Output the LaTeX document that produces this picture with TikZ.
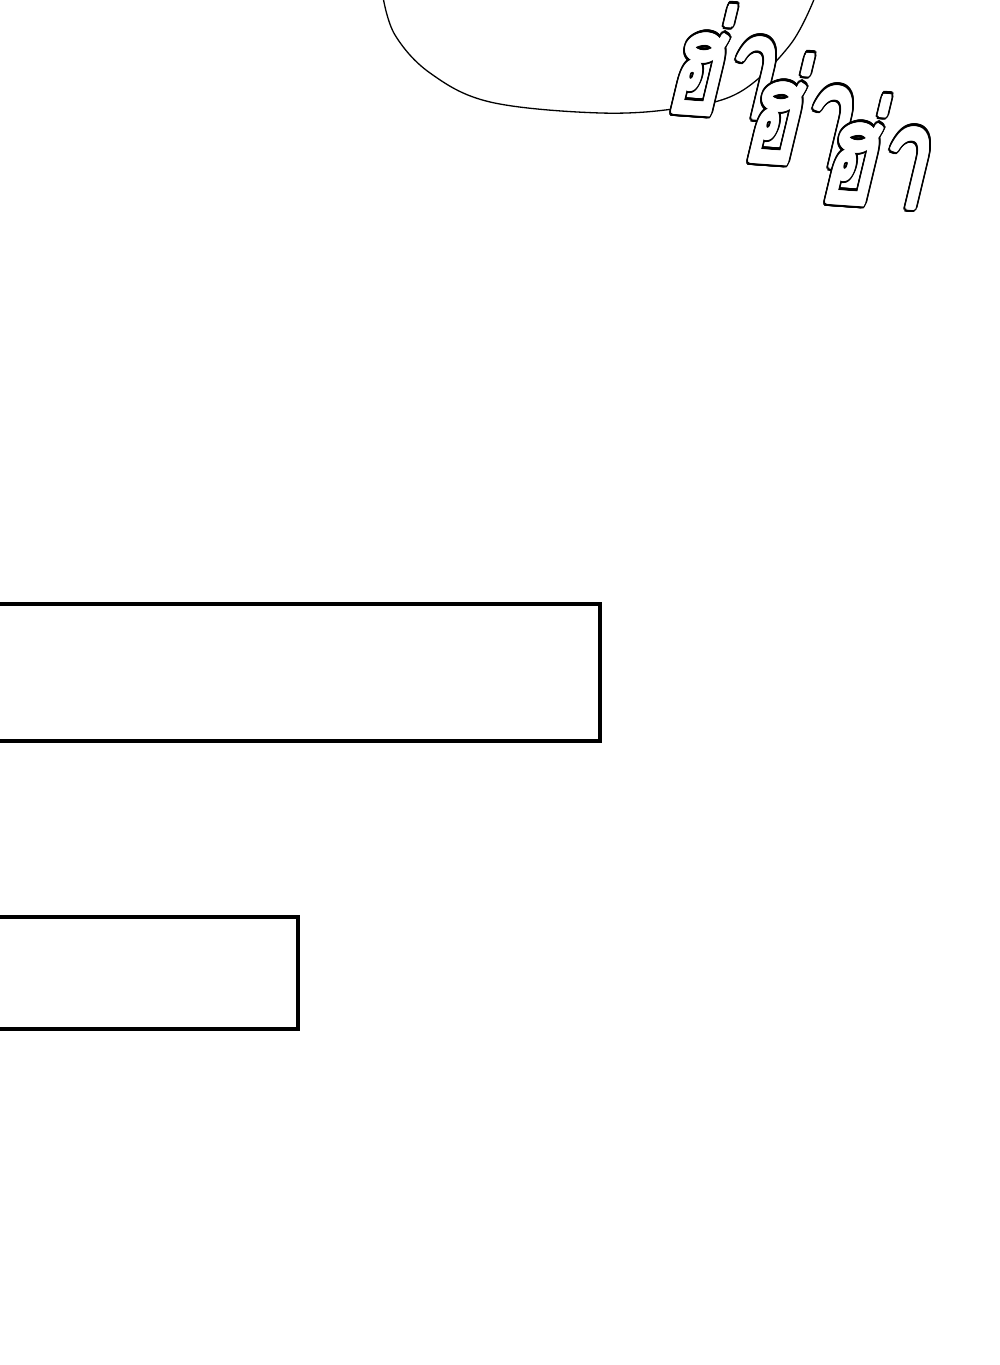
\documentclass[tikz,border=0pt]{standalone}
\usepackage{fontspec}
\newfontfamily\thaifont[Script=Thai]{Loma}
\usetikzlibrary{calc}
\tikzset{
  panelbox/.style={draw=black, line width=4pt, fill=white},
  bubbleline/.style={draw=black, line width=1.3pt},
  hatext/.style={font=\thaifont\fontsize{100}{100}\selectfont, inner sep=0pt, anchor=base},
}
\newcommand\outlinedha[3]{% x, y (image coords of baseline), name
  \begin{scope}[shift={(#1,1365-#2)}, xslant=0.17, rotate=-4, yscale=1.4, xscale=0.92, transform shape]
    \foreach \a in {0,15,...,345}{
      \node[hatext, text=black] at (\a:3.4) {ฮ่า};
    }
    \foreach \a in {0,30,...,330}{
      \node[hatext, text=white] at (\a:1.5) {ฮ่า};
    }
    \node[hatext, text=white] (#3) at (0,0) {ฮ่า};
  \end{scope}
}
\begin{document}
\begin{tikzpicture}[x=1pt,y=1pt]
  \useasboundingbox (0,0) rectangle (1000,1365);
  \fill[white] (0,0) rectangle (1000,1365);
  \clip (0,0) rectangle (1000,1365);
  % speech bubble (bottom part)
  \draw[bubbleline] plot[smooth, tension=0.6] coordinates {(383,1368) (395,1330) (430,1292) (490,1263) (600,1252) (680,1257) (740,1273) (790,1320) (815,1368)};
  % sound effect
  \outlinedha{716}{115}{ha1}
  \outlinedha{793}{164}{ha2}
  \outlinedha{870}{205}{ha3}
  % panels
  \draw[panelbox] (-10,1365-604) rectangle (600,1365-741);
  \draw[panelbox] (-10,1365-917) rectangle (298,1365-1029);
\end{tikzpicture}
\end{document}
